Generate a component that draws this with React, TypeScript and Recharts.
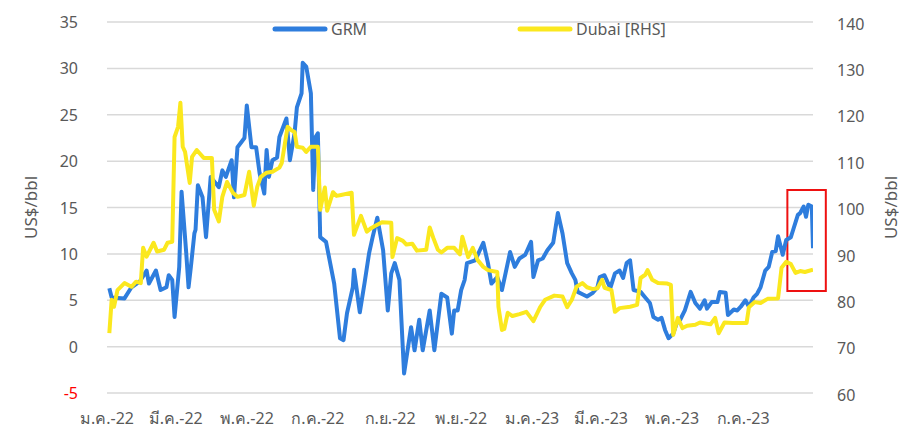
import React from 'react'
import {
  LineChart,
  Line,
  XAxis,
  YAxis,
  CartesianGrid,
  Legend,
  ReferenceArea,
} from 'recharts'

// GRM (US$/bbl, left axis)
const grmDates = [
  '2022-01-03', '2022-01-05', '2022-01-16', '2022-01-22', '2022-01-29', '2022-02-04', '2022-02-06', '2022-02-12',
  '2022-02-16', '2022-02-21', '2022-02-23', '2022-02-26', '2022-02-28', '2022-03-04', '2022-03-06', '2022-03-10',
  '2022-03-12', '2022-03-14', '2022-03-17', '2022-03-18', '2022-03-20', '2022-03-24', '2022-03-27', '2022-03-31',
  '2022-04-05', '2022-04-07', '2022-04-10', '2022-04-13', '2022-04-18', '2022-04-20', '2022-04-23', '2022-04-29',
  '2022-05-01', '2022-05-05', '2022-05-09', '2022-05-12', '2022-05-16', '2022-05-18', '2022-05-20', '2022-05-23',
  '2022-05-27', '2022-05-29', '2022-06-04', '2022-06-07', '2022-06-11', '2022-06-13', '2022-06-17', '2022-06-18',
  '2022-06-21', '2022-06-25', '2022-06-27', '2022-06-29', '2022-07-01', '2022-07-03', '2022-07-08', '2022-07-15',
  '2022-07-20', '2022-07-23', '2022-07-26', '2022-07-31', '2022-08-01', '2022-08-06', '2022-08-10', '2022-08-14',
  '2022-08-17', '2022-08-21', '2022-08-26', '2022-08-30', '2022-09-02', '2022-09-05', '2022-09-09', '2022-09-13',
  '2022-09-19', '2022-09-22', '2022-09-26', '2022-09-29', '2022-10-05', '2022-10-09', '2022-10-15', '2022-10-20',
  '2022-10-24', '2022-10-26', '2022-10-29', '2022-11-01', '2022-11-04', '2022-11-06', '2022-11-13', '2022-11-20',
  '2022-11-24', '2022-11-27', '2022-12-02', '2022-12-06', '2022-12-13', '2022-12-17', '2022-12-21', '2022-12-26',
  '2022-12-31', '2023-01-02', '2023-01-06', '2023-01-10', '2023-01-14', '2023-01-19', '2023-01-23', '2023-01-27',
  '2023-01-31', '2023-02-04', '2023-02-07', '2023-02-09', '2023-02-14', '2023-02-17', '2023-02-22', '2023-02-26',
  '2023-02-28', '2023-03-04', '2023-03-09', '2023-03-13', '2023-03-17', '2023-03-20', '2023-03-23', '2023-03-26',
  '2023-03-29', '2023-04-04', '2023-04-08', '2023-04-12', '2023-04-15', '2023-04-19', '2023-04-22', '2023-04-25',
  '2023-04-28', '2023-05-02', '2023-05-05', '2023-05-08', '2023-05-12', '2023-05-17', '2023-05-21', '2023-05-25',
  '2023-05-29', '2023-05-31', '2023-06-04', '2023-06-09', '2023-06-11', '2023-06-16', '2023-06-18', '2023-06-23',
  '2023-06-26', '2023-06-29', '2023-07-03', '2023-07-06', '2023-07-10', '2023-07-13', '2023-07-16', '2023-07-20',
  '2023-07-23', '2023-07-26', '2023-07-29', '2023-07-31', '2023-08-04', '2023-08-07', '2023-08-11', '2023-08-13',
  '2023-08-17', '2023-08-19', '2023-08-22', '2023-08-24', '2023-08-26', '2023-08-29', '2023-08-30',
]
const grmValues = [
  6.3, 5.3, 5.2, 6.4, 7.0, 8.2, 6.8, 8.2,
  6.1, 6.4, 7.7, 7.2, 3.2, 8.6, 16.7, 10.1,
  6.4, 8.6, 12.2, 12.6, 17.4, 16.1, 11.8, 18.3,
  17.5, 17.2, 19.0, 18.3, 20.1, 16.1, 21.5, 22.5,
  26.0, 21.5, 21.5, 18.7, 16.5, 21.2, 18.3, 20.1,
  20.4, 22.6, 24.6, 20.1, 23.0, 25.8, 27.3, 30.6,
  30.2, 27.3, 16.9, 22.6, 23.0, 11.8, 11.3, 6.8,
  0.9, 0.7, 3.6, 6.4, 8.3, 3.7, 6.8, 10.1,
  11.8, 13.9, 10.4, 3.9, 7.9, 9.0, 7.2, -2.9,
  2.1, -0.4, 2.9, -0.4, 3.9, -0.4, 5.7, 5.3,
  1.4, 3.9, 3.9, 6.1, 7.2, 9.0, 9.3, 11.2,
  9.0, 6.8, 7.5, 6.1, 10.2, 8.6, 9.5, 9.9,
  11.3, 7.5, 9.3, 9.5, 10.4, 11.2, 14.4, 12.2,
  9.0, 7.9, 7.2, 5.9, 5.6, 5.4, 5.8, 6.4,
  7.5, 7.7, 6.3, 7.9, 8.2, 7.4, 9.0, 9.3,
  6.1, 5.9, 5.3, 4.7, 3.2, 2.9, 3.1, 1.8,
  0.9, 1.4, 2.5, 2.9, 3.9, 5.9, 4.7, 4.1,
  5.0, 4.1, 4.8, 4.8, 5.9, 5.8, 3.4, 4.0,
  3.9, 4.3, 5.0, 4.3, 5.3, 5.7, 6.4, 8.2,
  8.6, 10.2, 10.3, 11.9, 9.9, 11.5, 11.8, 12.6,
  14.2, 14.4, 15.1, 14.0, 15.3, 15.1, 10.6,
]

// Dubai crude (US$/bbl, right axis)
const dubaiDates = [
  '2022-01-03', '2022-01-05', '2022-01-07', '2022-01-10', '2022-01-16', '2022-01-22', '2022-01-26', '2022-01-30',
  '2022-02-01', '2022-02-04', '2022-02-10', '2022-02-13', '2022-02-19', '2022-02-22', '2022-02-26', '2022-02-28',
  '2022-03-03', '2022-03-05', '2022-03-07', '2022-03-09', '2022-03-13', '2022-03-15', '2022-03-19', '2022-03-25',
  '2022-04-01', '2022-04-03', '2022-04-07', '2022-04-10', '2022-04-14', '2022-04-19', '2022-04-23', '2022-04-29',
  '2022-05-03', '2022-05-07', '2022-05-10', '2022-05-13', '2022-05-18', '2022-05-23', '2022-05-29', '2022-05-31',
  '2022-06-05', '2022-06-08', '2022-06-11', '2022-06-13', '2022-06-18', '2022-06-21', '2022-06-25', '2022-07-01',
  '2022-07-03', '2022-07-07', '2022-07-09', '2022-07-14', '2022-07-17', '2022-07-21', '2022-07-30', '2022-08-01',
  '2022-08-07', '2022-08-12', '2022-08-16', '2022-08-19', '2022-08-25', '2022-09-02', '2022-09-03', '2022-09-07',
  '2022-09-12', '2022-09-15', '2022-09-20', '2022-09-24', '2022-10-02', '2022-10-05', '2022-10-08', '2022-10-12',
  '2022-10-15', '2022-10-20', '2022-10-26', '2022-10-31', '2022-11-02', '2022-11-07', '2022-11-11', '2022-11-15',
  '2022-11-20', '2022-11-24', '2022-12-02', '2022-12-03', '2022-12-06', '2022-12-08', '2022-12-11', '2022-12-15',
  '2022-12-21', '2022-12-27', '2023-01-02', '2023-01-08', '2023-01-12', '2023-01-20', '2023-01-27', '2023-01-31',
  '2023-02-04', '2023-02-08', '2023-02-13', '2023-02-17', '2023-02-22', '2023-02-26', '2023-03-02', '2023-03-04',
  '2023-03-10', '2023-03-13', '2023-03-17', '2023-03-26', '2023-04-01', '2023-04-04', '2023-04-08', '2023-04-10',
  '2023-04-14', '2023-04-19', '2023-04-27', '2023-04-30', '2023-05-02', '2023-05-06', '2023-05-10', '2023-05-14',
  '2023-05-21', '2023-05-25', '2023-06-03', '2023-06-07', '2023-06-10', '2023-06-15', '2023-06-22', '2023-07-04',
  '2023-07-06', '2023-07-11', '2023-07-16', '2023-07-22', '2023-07-31', '2023-08-03', '2023-08-07', '2023-08-11',
  '2023-08-15', '2023-08-19', '2023-08-23', '2023-08-30',
]
const dubaiValues = [
  72.9, 80.1, 78.6, 82.2, 83.7, 82.9, 84.0, 83.7,
  91.3, 89.4, 92.4, 90.5, 90.9, 92.4, 92.6, 115.2,
  117.4, 122.6, 113.1, 112.0, 105.3, 110.9, 112.4, 110.7,
  110.7, 99.5, 97.0, 102.3, 105.5, 103.2, 102.3, 102.7,
  107.7, 100.4, 104.5, 106.6, 107.5, 107.7, 108.6, 109.6,
  117.4, 116.7, 116.3, 113.1, 112.9, 112.0, 113.1, 113.1,
  99.5, 104.3, 99.3, 103.3, 102.5, 102.7, 103.2, 94.1,
  98.2, 94.8, 95.6, 96.0, 96.8, 96.7, 89.3, 93.4,
  92.8, 92.0, 92.2, 90.7, 90.9, 95.7, 93.5, 90.9,
  90.3, 91.3, 91.3, 89.9, 93.7, 89.3, 91.3, 88.7,
  87.2, 86.5, 86.1, 78.6, 73.6, 73.8, 77.3, 76.6,
  77.0, 77.5, 75.5, 78.6, 80.1, 81.0, 80.8, 78.5,
  80.1, 82.9, 83.7, 82.8, 82.4, 82.6, 84.4, 82.7,
  82.2, 77.5, 78.3, 78.6, 79.0, 84.8, 85.5, 86.5,
  84.4, 83.7, 83.6, 83.3, 72.5, 76.2, 74.0, 74.5,
  74.7, 75.2, 74.8, 76.2, 72.9, 75.2, 75.1, 75.1,
  78.5, 79.6, 79.4, 80.3, 80.4, 87.0, 88.3, 87.8,
  85.9, 86.3, 86.1, 86.6,
]

const xTicks = [
  '2022-01-01', '2022-03-01', '2022-05-01', '2022-07-01', '2022-09-01',
  '2022-11-01', '2023-01-01', '2023-03-01', '2023-05-01', '2023-07-01',
]
const thaiMonths = ['ม.ค.', 'ก.พ.', 'มี.ค.', 'เม.ย.', 'พ.ค.', 'มิ.ย.', 'ก.ค.', 'ส.ค.', 'ก.ย.', 'ต.ค.', 'พ.ย.', 'ธ.ค.']
const leftTicks = [-5, 0, 5, 10, 15, 20, 25, 30, 35]
const rightTicks = [60, 70, 80, 90, 100, 110, 120, 130, 140]

const BLUE = '#2e7ddd'
const YELLOW = '#fbe81e'
const TEXT = '#595959'
const FONT = "'Century Gothic', 'Noto Sans', 'DejaVu Sans', sans-serif"

const toTs = (d: string) => Date.parse(d)
const grmData = grmDates.map((d, i) => ({ t: toTs(d), v: grmValues[i] }))
const dubaiData = dubaiDates.map((d, i) => ({ t: toTs(d), v: dubaiValues[i] }))

const fmtMonth = (ts: number) => {
  const d = new Date(ts)
  return `${thaiMonths[d.getUTCMonth()]}-${String(d.getUTCFullYear()).slice(2)}`
}

const LeftTick = ({ x, y, payload }: any) => (
  <text x={x} y={y} dy={6} textAnchor="end" fontSize={16} fontFamily={FONT} fill={payload.value < 0 ? '#ff0000' : TEXT}>
    {payload.value}
  </text>
)

const AxisTitle = ({ viewBox, dx }: any) => {
  const cx = viewBox.x + dx
  const cy = viewBox.y + viewBox.height / 2
  return (
    <text x={cx} y={cy} transform={`rotate(-90 ${cx} ${cy})`} textAnchor="middle" dominantBaseline="central" fontSize={17} fontFamily={FONT} fill={TEXT}>
      US$/bbl
    </text>
  )
}

const LegendContent = () => (
  <div style={{ position: 'relative', height: 20, fontFamily: FONT, fontSize: 16, color: TEXT }}>
    <div style={{ position: 'absolute', left: 272, top: 0, display: 'flex', alignItems: 'center' }}>
      <svg width={56} height={8}><line x1={3} y1={4} x2={53} y2={4} stroke={BLUE} strokeWidth={5} strokeLinecap="round" /></svg>
      <span style={{ marginLeft: 3 }}>GRM</span>
    </div>
    <div style={{ position: 'absolute', left: 517, top: 0, display: 'flex', alignItems: 'center' }}>
      <svg width={56} height={8}><line x1={3} y1={4} x2={53} y2={4} stroke={YELLOW} strokeWidth={5} strokeLinecap="round" /></svg>
      <span style={{ marginLeft: 3 }}>Dubai [RHS]</span>
    </div>
  </div>
)

export default function App() {
  return (
    <div style={{ margin: -8, width: 907, height: 433 }}>
      <LineChart width={907} height={433} margin={{ top: 22, right: 0, bottom: 0, left: 0 }}>
        <CartesianGrid yAxisId="left" vertical={false} stroke="#d9d9d9" strokeWidth={1.5} />
        <XAxis
          type="number"
          dataKey="t"
          domain={[toTs('2022-01-01'), toTs('2023-08-30')]}
          ticks={xTicks.map(toTs)}
          tickFormatter={fmtMonth}
          axisLine={false}
          tickLine={false}
          tickSize={0}
          tickMargin={20}
          height={40}
          allowDataOverflow
          interval={0}
          tick={{ fontSize: 16, fill: TEXT, fontFamily: FONT }}
        />
        <YAxis
          yAxisId="left"
          domain={[-5, 35]}
          ticks={leftTicks}
          width={107}
          axisLine={false}
          tickLine={false}
          tickSize={0}
          tickMargin={29}
          interval={0}
          tick={<LeftTick />}
          label={<AxisTitle dx={30} />}
        />
        <YAxis
          yAxisId="right"
          orientation="right"
          domain={[60, 140]}
          ticks={rightTicks}
          width={94}
          axisLine={false}
          tickLine={false}
          tickSize={0}
          tickMargin={24}
          interval={0}
          tick={{ fontSize: 16, fill: TEXT, fontFamily: FONT, dy: 2 }}
          label={<AxisTitle dx={77} />}
        />
        <Legend verticalAlign="middle" align="center" wrapperStyle={{ top: 18, left: 0, width: 907 }} content={<LegendContent />} />
        <Line
          yAxisId="left"
          data={grmData}
          dataKey="v"
          name="GRM"
          type="linear"
          stroke={BLUE}
          strokeWidth={4}
          strokeLinejoin="round"
          dot={false}
          isAnimationActive={false}
        />
        <Line
          yAxisId="right"
          data={dubaiData}
          dataKey="v"
          name="Dubai [RHS]"
          type="linear"
          stroke={YELLOW}
          strokeWidth={4}
          strokeLinejoin="round"
          dot={false}
          isAnimationActive={false}
        />
        <ReferenceArea
          yAxisId="left"
          x1={toTs('2023-08-08')}
          x2={toTs('2023-09-10')}
          y1={6.0}
          y2={16.9}
          ifOverflow="visible"
          fill="none"
          stroke="#ee1111"
          strokeWidth={2}
        />
      </LineChart>
    </div>
  )
}
